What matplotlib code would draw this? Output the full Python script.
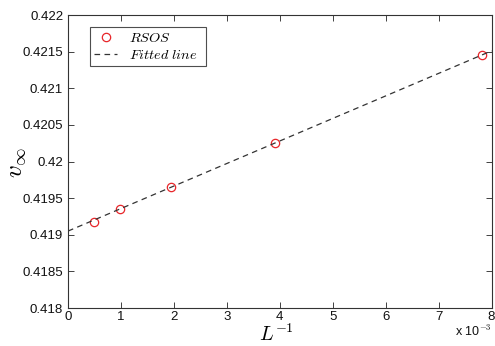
import matplotlib
matplotlib.use("Agg")
import matplotlib.pyplot as plt

# Data
inv_L = [1/2048, 1/1024, 1/512, 1/256, 1/128]
v_inf = [0.41917, 0.41935, 0.41965, 0.42025, 0.42146]
fit_x = [0.0, 0.008]
fit_y = [0.41905, 0.42151]
xticks = [0, 0.001, 0.002, 0.003, 0.004, 0.005, 0.006, 0.007, 0.008]
xtick_labels = ["0", "1", "2", "3", "4", "5", "6", "7", "8"]
yticks = [0.418, 0.4185, 0.419, 0.4195, 0.42, 0.4205, 0.421, 0.4215, 0.422]
ytick_labels = ["0.418", "0.4185", "0.419", "0.4195", "0.42", "0.4205", "0.421", "0.4215", "0.422"]

plt.rcParams['mathtext.fontset'] = 'cm'
plt.rcParams['font.family'] = ['Liberation Sans', 'DejaVu Sans']

fig = plt.figure(figsize=(4.95, 3.46), dpi=100)
ax = fig.add_axes([68/495, 1 - 308/346, (491.5-68)/495, (308-15)/346])

ax.plot(inv_L, v_inf, linestyle='none', marker='o', markersize=6,
        markerfacecolor='none', markeredgecolor='#e8262a', markeredgewidth=0.9,
        label='$RSOS$')
ax.plot(fit_x, fit_y, linestyle=(0, (4.5, 3.5)), color='#333333', linewidth=0.9,
        label='$Fitted\\ line$\u00a0\u00a0')

ax.set_xlim(0, 0.008)
ax.set_ylim(0.418, 0.422)
ax.set_xticks(xticks)
ax.set_xticklabels(xtick_labels)
ax.set_yticks(yticks)
ax.set_yticklabels(ytick_labels)
ax.tick_params(direction='in', top=True, right=True, labelsize=9.5,
               length=4, width=0.6, colors='#222222', labelcolor='#111111')
ax.tick_params(axis='x', pad=2.2)
for s in ax.spines.values():
    s.set_linewidth(0.8)
    s.set_color('#333333')

ax.set_xlabel('$L^{-1}$', fontsize=14.5)
ax.xaxis.set_label_coords((277-68)/423.5, -0.052)
ax.set_ylabel('$v_\\infty$', fontsize=18)
ax.yaxis.set_label_coords(-0.095, 0.495)
ax.text(1.0, -0.055, 'x 10$^{-3}$', transform=ax.transAxes, ha='right', va='top',
        fontsize=9, color='#111111')

leg = ax.legend(loc='upper left', bbox_to_anchor=(0.052, 0.959), borderaxespad=0,
                fontsize=10.3, frameon=True, fancybox=False, edgecolor='#222222',
                handlelength=1.6, borderpad=0.3, labelspacing=0.2, handletextpad=0.8)
leg.get_frame().set_linewidth(0.8)

fig.savefig('out.png', dpi=100)
